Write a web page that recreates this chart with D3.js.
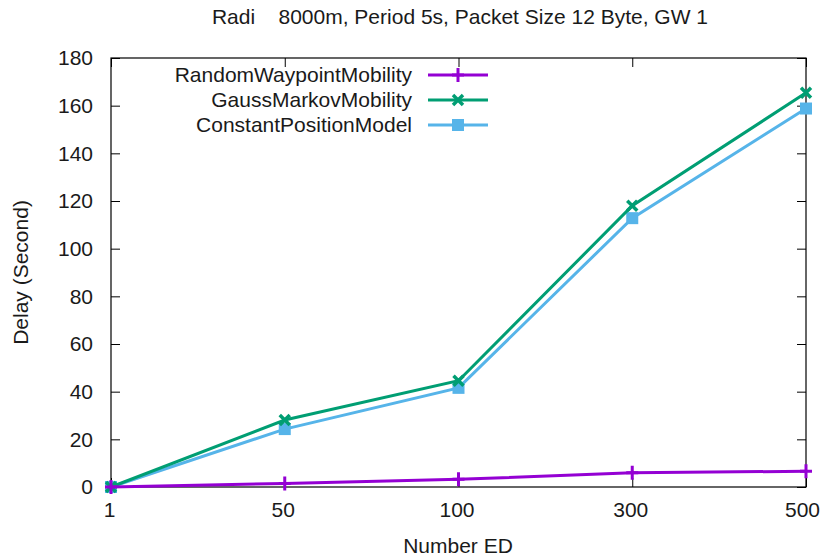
<!DOCTYPE html>
<html lang="en">
	<head>
		<meta charset="utf-8">
		<title>Delay vs Number ED</title>
		<script src="https://d3js.org/d3.v7.min.js"></script>
		<style type="text/css">
			body { margin: 0; background: #fff; }
			text { font-family: "Liberation Sans", Arial, sans-serif; fill: #1a1a1a; }
		</style>
	</head>
	<body>
		<script type="text/javascript">
			//Data
			var categories = ["1", "50", "100", "300", "500"];
			var randomWaypoint = [0, 1.5, 3.2, 6.0, 6.6];
			var gaussMarkov = [0, 28.1, 44.6, 118, 165.4];
			var constantPosition = [0, 24.3, 41.6, 112.8, 158.8];
			var yTicks = [0, 20, 40, 60, 80, 100, 120, 140, 160, 180];

			var series = [
				{ name: "RandomWaypointMobility", values: randomWaypoint, color: "#9400d3", marker: "plus" },
				{ name: "GaussMarkovMobility", values: gaussMarkov, color: "#009e73", marker: "cross" },
				{ name: "ConstantPositionModel", values: constantPosition, color: "#56b4e9", marker: "square" }
			];

			//Width and height
			var w = 822;
			var h = 557;
			var margin = { left: 111, right: 16, top: 58, bottom: 70 };
			var fontSize = "21px";

			var svg = d3.select("body")
				.append("svg")
				.attr("width", w)
				.attr("height", h);

			var x = d3.scalePoint()
				.domain(categories)
				.range([margin.left, w - margin.right]);

			var y = d3.scaleLinear()
				.domain([0, 180])
				.range([h - margin.bottom, margin.top]);

			var tick = 9;

			//Axes, ticks pointing inward, mirrored on all sides
			svg.append("g")
				.attr("transform", "translate(0," + y(0) + ")")
				.call(d3.axisBottom(x).tickSize(-tick).tickPadding(15))
				.call(function(g) { g.select(".domain").remove(); })
				.selectAll("text")
				.style("font-size", fontSize)
				.attr("fill", "#1a1a1a")
				.attr("dx", function(d, i) { return i === categories.length - 1 ? -4 : -2; });

			svg.append("g")
				.attr("transform", "translate(0," + y(180) + ")")
				.call(d3.axisTop(x).tickSize(-tick).tickFormat(""))
				.call(function(g) { g.select(".domain").remove(); });

			svg.append("g")
				.attr("transform", "translate(" + margin.left + ",0)")
				.call(d3.axisLeft(y).tickValues(yTicks).tickSize(-tick).tickPadding(18))
				.call(function(g) { g.select(".domain").remove(); })
				.selectAll("text").style("font-size", fontSize).attr("fill", "#1a1a1a");

			svg.append("g")
				.attr("transform", "translate(" + (w - margin.right) + ",0)")
				.call(d3.axisRight(y).tickValues(yTicks).tickSize(-tick).tickFormat(""))
				.call(function(g) { g.select(".domain").remove(); });

			svg.selectAll(".tick line").attr("stroke", "#000");

			//Border
			svg.append("rect")
				.attr("x", margin.left)
				.attr("y", margin.top)
				.attr("width", w - margin.right - margin.left)
				.attr("height", h - margin.bottom - margin.top)
				.attr("fill", "none")
				.attr("stroke", "#000")
				.attr("stroke-width", 1.2);

			//Marker drawing
			function drawMarker(g, type, cx, cy, color) {
				if (type === "plus") {
					g.append("path")
						.attr("d", "M" + (cx - 6) + "," + cy + "H" + (cx + 6) + "M" + cx + "," + (cy - 7) + "V" + (cy + 7))
						.attr("stroke", color).attr("stroke-width", 3).attr("fill", "none");
				} else if (type === "cross") {
					g.append("path")
						.attr("d", "M" + (cx - 5) + "," + (cy - 5) + "L" + (cx + 5) + "," + (cy + 5) + "M" + (cx - 5) + "," + (cy + 5) + "L" + (cx + 5) + "," + (cy - 5))
						.attr("stroke", color).attr("stroke-width", 3.5).attr("fill", "none");
				} else {
					g.append("rect")
						.attr("x", cx - 6).attr("y", cy - 6)
						.attr("width", 12).attr("height", 12)
						.attr("fill", color);
				}
			}

			var line = d3.line()
				.x(function(d, i) { return x(categories[i]); })
				.y(function(d) { return y(d); });

			//Draw series in reverse so purple is on top at origin
			series.slice().reverse().forEach(function(s) {
				var g = svg.append("g");
				g.append("path")
					.attr("d", line(s.values))
					.attr("fill", "none")
					.attr("stroke", s.color)
					.attr("stroke-width", 3);
				s.values.forEach(function(v, i) {
					drawMarker(g, s.marker, x(categories[i]), y(v), s.color);
				});
			});

			//Legend
			var legend = svg.append("g");
			series.forEach(function(s, i) {
				var ly = 75 + i * 25;
				legend.append("text")
					.attr("x", 412)
					.attr("y", ly)
					.attr("dy", "0.35em")
					.attr("text-anchor", "end")
					.style("font-size", fontSize)
					.text(s.name);
				legend.append("line")
					.attr("x1", 428).attr("x2", 488)
					.attr("y1", ly).attr("y2", ly)
					.attr("stroke", s.color)
					.attr("stroke-width", 3);
				drawMarker(legend, s.marker, 458, ly, s.color);
			});

			//Title and axis labels
			svg.append("text")
				.attr("x", 460)
				.attr("y", 24)
				.attr("text-anchor", "middle")
				.style("font-size", fontSize)
				.style("white-space", "pre")
				.attr("xml:space", "preserve")
				.text("Radi    8000m, Period 5s, Packet Size 12 Byte, GW 1");

			svg.append("text")
				.attr("x", 458)
				.attr("y", 553)
				.attr("text-anchor", "middle")
				.style("font-size", fontSize)
				.text("Number ED");

			svg.append("text")
				.attr("transform", "translate(28," + ((margin.top + h - margin.bottom) / 2) + ") rotate(-90)")
				.attr("text-anchor", "middle")
				.style("font-size", fontSize)
				.text("Delay (Second)");
		</script>
	</body>
</html>
